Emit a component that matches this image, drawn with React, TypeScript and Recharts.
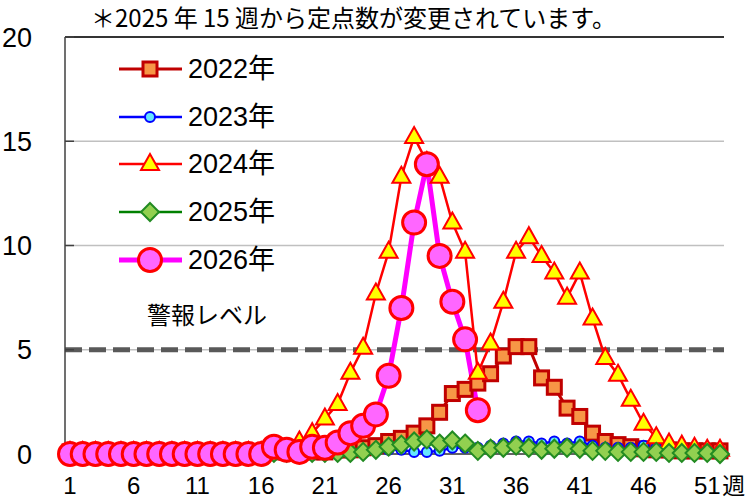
import { LineChart, Line, XAxis, YAxis, CartesianGrid, ReferenceLine } from "recharts";

// weeks 1..52
const weeks = [
  1, 2, 3, 4, 5, 6, 7, 8, 9, 10, 11, 12, 13, 14, 15, 16, 17, 18, 19, 20, 21, 22, 23, 24, 25, 26,
  27, 28, 29, 30, 31, 32, 33, 34, 35, 36, 37, 38, 39, 40, 41, 42, 43, 44, 45, 46, 47, 48, 49, 50, 51, 52,
];

const y2022 = [
  0.1, 0.1, 0.1, 0.1, 0.1, 0.1, 0.1, 0.1, 0.1, 0.1, 0.1, 0.1, 0.1, 0.1, 0.1, 0.1, 0.1, 0.1, 0.1, 0.1,
  0.1, 0.2, 0.2, 0.3, 0.4, 0.6, 0.75, 1.0, 1.35, 2.0, 2.9, 3.1, 3.4, 3.85, 4.7, 5.15, 5.15, 3.65, 3.2, 2.2,
  1.8, 1.0, 0.6, 0.45, 0.35, 0.25, 0.2, 0.2, 0.15, 0.15, 0.15, 0.15,
];
const y2023 = [
  0.05, 0.05, 0.05, 0.05, 0.05, 0.05, 0.05, 0.05, 0.05, 0.05, 0.05, 0.05, 0.05, 0.05, 0.05, 0.05, 0.05, 0.05, 0.05, 0.05,
  0.1, 0.1, 0.1, 0.15, 0.15, 0.2, 0.2, 0.1, 0.1, 0.15, 0.3, 0.3, 0.3, 0.4, 0.5, 0.6, 0.6, 0.5, 0.6, 0.5,
  0.6, 0.4, 0.3, 0.3, 0.3, 0.4, 0.3, 0.2, 0.2, 0.2, 0.1, 0.1,
];
const y2024 = [
  0.1, 0.1, 0.1, 0.1, 0.1, 0.1, 0.1, 0.1, 0.1, 0.1, 0.1, 0.1, 0.1, 0.1, 0.1, 0.1, 0.1, 0.2, 0.6, 1.0,
  1.7, 2.4, 3.9, 5.1, 7.7, 9.7, 13.3, 15.2, 14.0, 13.3, 11.1, 9.7, 3.9, 5.3, 7.3, 9.7, 10.4, 9.5, 8.7, 7.5,
  8.7, 6.5, 4.6, 3.8, 2.6, 1.45, 0.8, 0.5, 0.4, 0.3, 0.2, 0.2,
];
const y2025 = [
  0, 0, 0, 0, 0, 0, 0, 0, 0, 0, 0, 0, 0, 0, 0, 0, 0.05, 0.05, 0, 0.05,
  0.05, 0.05, 0.05, 0.1, 0.2, 0.35, 0.45, 0.6, 0.7, 0.5, 0.65, 0.5, 0.15, 0.25, 0.3, 0.4, 0.3, 0.2, 0.25, 0.3,
  0.25, 0.15, 0.15, 0.1, 0.1, 0.1, 0.1, 0.05, 0.05, 0.05, 0.05, 0,
];
const y2026 = [
  0, 0, 0, 0, 0, 0, 0, 0, 0, 0, 0, 0, 0, 0, 0, 0, 0.35, 0.2, 0.1, 0.35,
  0.3, 0.55, 1.0, 1.35, 1.9, 3.75, 7.0, 11.1, 13.9, 9.5, 7.3, 5.5, 2.1, null, null, null, null, null, null, null,
  null, null, null, null, null, null, null, null, null, null, null, null,
];

const yTicks = [0, 5, 10, 15, 20];
const ALARM = 5;

const data = weeks.map((w, i) => ({
  week: w,
  y2022: y2022[i],
  y2023: y2023[i],
  y2024: y2024[i],
  y2025: y2025[i],
  y2026: y2026[i],
}));

const JP = "'Liberation Sans', 'Noto Sans CJK JP', sans-serif";

const squareDot = (p: any) => {
  const { cx, cy, index } = p;
  if (cx == null || cy == null) return <g key={"sq" + index} />;
  return <rect key={"sq" + index} x={cx - 7} y={cy - 7} width={14} height={14} fill="#F79646" stroke="#C00000" strokeWidth={3} />;
};
const smallDot = (p: any) => {
  const { cx, cy, index } = p;
  if (cx == null || cy == null) return <g key={"sc" + index} />;
  return <circle key={"sc" + index} cx={cx} cy={cy} r={5} fill="#66E6FF" stroke="#0000FF" strokeWidth={2} />;
};
const triDot = (p: any) => {
  const { cx, cy, index } = p;
  if (cx == null || cy == null) return <g key={"tr" + index} />;
  return (
    <polygon key={"tr" + index} points={`${cx},${cy - 10} ${cx - 9},${cy + 6} ${cx + 9},${cy + 6}`}
      fill="#FFFF00" stroke="#FF0000" strokeWidth={2} strokeLinejoin="miter" />
  );
};
const diaDot = (p: any) => {
  const { cx, cy, index } = p;
  if (cx == null || cy == null) return <g key={"di" + index} />;
  return (
    <polygon key={"di" + index} points={`${cx},${cy - 9} ${cx + 9},${cy} ${cx},${cy + 9} ${cx - 9},${cy}`}
      fill="#92D050" stroke="#228B22" strokeWidth={2} />
  );
};
const bigDot = (p: any) => {
  const { cx, cy, index } = p;
  if (cx == null || cy == null) return <g key={"bc" + index} />;
  return <circle key={"bc" + index} cx={cx} cy={cy} r={11.5} fill="#FF66FF" stroke="#FF0000" strokeWidth={3} />;
};

const XTick = (p: any) => {
  const { x, y, payload } = p;
  return (
    <g>
      <text x={x} y={y + 30} dy="0.35em" textAnchor="middle" fontSize={24} fill="#000" fontFamily={JP}>
        {payload.value}
      </text>
      {payload.value === 51 && (
        <text x={x + 15} y={y + 30} dy="0.35em" textAnchor="start" fontSize={23} fill="#000" fontFamily={JP}>
          週
        </text>
      )}
    </g>
  );
};

const legendItems = [
  { name: "2022年", color: "#C00000", width: 3, dot: squareDot },
  { name: "2023年", color: "#0000FF", width: 2.5, dot: smallDot },
  { name: "2024年", color: "#FF0000", width: 2.5, dot: triDot },
  { name: "2025年", color: "#008000", width: 2.5, dot: diaDot },
  { name: "2026年", color: "#FF00FF", width: 5, dot: bigDot },
];

function LegendBox() {
  return (
    <>
      {legendItems.map((it, i) => (
        <div key={it.name} style={{ position: "absolute", left: 119, top: 54 + i * 47.7, height: 30, display: "flex", alignItems: "center" }}>
          <svg width={64} height={30}>
            <line x1={0} y1={15} x2={63} y2={15} stroke={it.color} strokeWidth={it.width} />
            {it.dot({ cx: 31, cy: 15, index: 0 })}
          </svg>
          <span style={{ marginLeft: 5, fontSize: 27, lineHeight: "30px", fontFamily: JP, color: "#000" }}>{it.name}</span>
        </div>
      ))}
      <div style={{ position: "absolute", left: 147, top: 299, fontSize: 24, lineHeight: "30px", fontFamily: "'Noto Sans CJK JP', sans-serif" }}>
        警報レベル
      </div>
    </>
  );
}

export default function App() {
  return (
    <div style={{ position: "absolute", left: 0, top: 0, width: 750, height: 501, background: "#fff", fontFamily: JP }}>
      <div style={{ position: "absolute", left: 91, top: 2, fontSize: 24, lineHeight: "30px", fontFamily: "'Liberation Sans Narrow', 'Noto Sans CJK JP', sans-serif", whiteSpace: "nowrap" }}>
        ＊2025 年 15 週から定点数が変更されています。
      </div>
      <LineChart width={750} height={501} data={data} margin={{ top: 37, right: 26, bottom: 7, left: 0 }}>
        <CartesianGrid vertical={false} stroke="#c0c0c0" strokeWidth={1.5} />
        <XAxis dataKey="week" interval={4} tick={XTick} tickLine={false} tickSize={0} height={40}
          padding={{ left: 5, right: 4 }} axisLine={{ stroke: "#404040", strokeWidth: 1.5 }} />
        <YAxis domain={[0, 20]} ticks={yTicks} width={65} tickSize={-9} tickMargin={42}
          tickLine={{ stroke: "#404040", strokeWidth: 1.5 }} axisLine={{ stroke: "#404040", strokeWidth: 1.5 }}
          tick={{ fontSize: 27, fill: "#000", fontFamily: JP }} />
        <YAxis yAxisId="r" orientation="right" domain={[0, 20]} width={0} tick={false} tickLine={false}
          axisLine={{ stroke: "#000", strokeWidth: 1.5 }} />
        <ReferenceLine y={20} stroke="#000" strokeWidth={1.5} />
        <ReferenceLine y={ALARM} stroke="#595959" strokeWidth={5} strokeDasharray="17 7" zIndex={300} />
        <Line dataKey="y2022" stroke="#C00000" strokeWidth={3} dot={squareDot} isAnimationActive={false} />
        <Line dataKey="y2023" stroke="#0000FF" strokeWidth={2.5} dot={smallDot} isAnimationActive={false} />
        <Line dataKey="y2024" stroke="#FF0000" strokeWidth={2.5} dot={triDot} isAnimationActive={false} />
        <Line dataKey="y2025" stroke="#008000" strokeWidth={2.5} dot={diaDot} isAnimationActive={false} />
        <Line dataKey="y2026" stroke="#FF00FF" strokeWidth={5} dot={bigDot} isAnimationActive={false} />
      </LineChart>
      <LegendBox />
    </div>
  );
}
